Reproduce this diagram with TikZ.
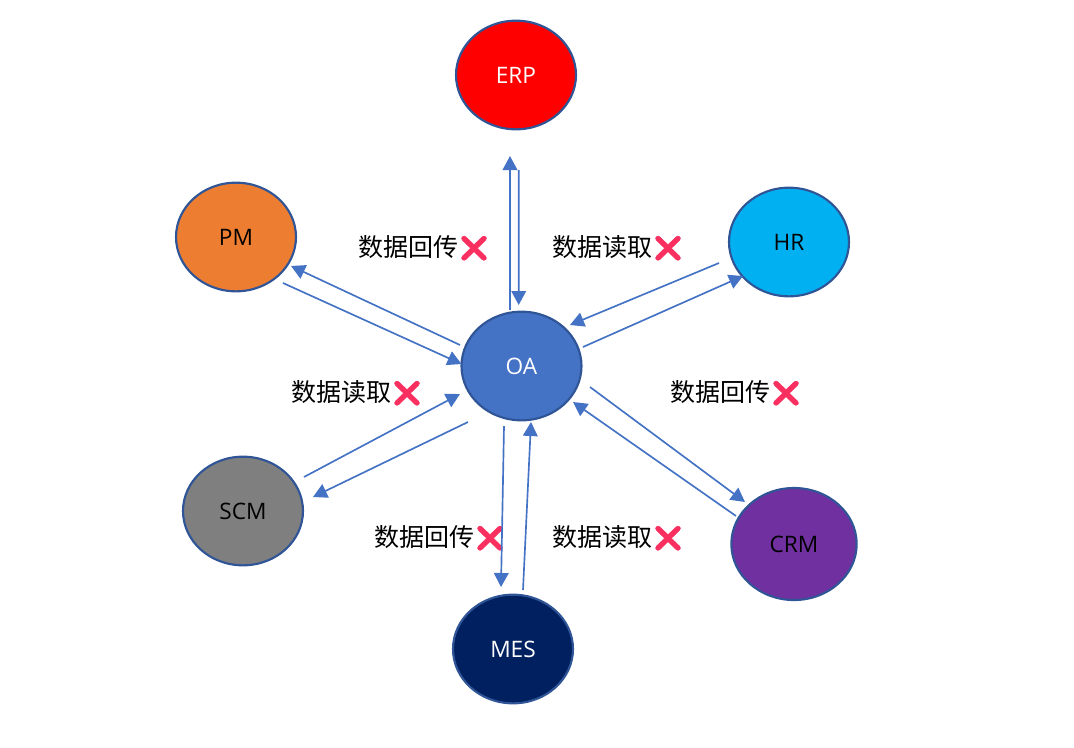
\documentclass[tikz,border=0pt]{standalone}
\usepackage{fontspec}
\usepackage{tikz}
\usetikzlibrary{arrows.meta, shapes.geometric}
\setmainfont{Noto Sans CJK SC}
\newfontfamily\namefont{Open Sans}
\newfontfamily\emojifont[FakeBold=2.2]{Noto Emoji}
\definecolor{sysline}{HTML}{2F5597}
\definecolor{flowblue}{HTML}{4472C4}
\definecolor{crosspink}{HTML}{F92F60}
\definecolor{pmfill}{HTML}{ED7D31}
\definecolor{hrfill}{HTML}{00B0F0}
\definecolor{scmfill}{HTML}{7F7F7F}
\definecolor{crmfill}{HTML}{7030A0}
\definecolor{mesfill}{HTML}{002060}
\newcommand{\nogo}{{\emojifont\textcolor{crosspink}{❌}}}

\begin{document}
\begin{tikzpicture}[x=0.75pt, y=-0.75pt,
			sys/.style={draw=sysline, line width=1.6pt, ellipse, inner sep=0pt,
				minimum width=90pt, minimum height=81.5pt, font=\namefont\fontsize{17}{20}\selectfont},
			flow/.style={-{Triangle[length=10.5pt, width=11pt]}, draw=flowblue, line width=1.25pt},
			lbl/.style={inner sep=0pt, font=\fontsize{18.75}{22}\selectfont}
			]
			\useasboundingbox (0,0) rectangle (1074,747);
			
			\node[sys, fill=flowblue, text=white] (oa) at (521.5,366) {OA};
			\node[sys, fill=red, text=white] (erp) at (516,75) {ERP};
			\node[sys, fill=pmfill] (pm) at (236,237) {PM};
			\node[sys, fill=hrfill] (hr) at (789,242) {HR};
			\node[sys, fill=scmfill] (scm) at (243,511) {SCM};
			\node[sys, fill=crmfill, minimum width=94pt, minimum height=84pt] (crm) at (794,544) {CRM};
			\node[sys, fill=mesfill, text=white] (mes) at (513,649) {MES};
			
			\node[lbl] (pmback) at (424,248) {数据回传\nogo};
			\node[lbl] (hrread) at (618,248) {数据读取\nogo};
			\node[lbl] (crmback) at (736,393) {数据回传\nogo};
			\node[lbl] (scmread) at (357,393) {数据读取\nogo};
			\node[lbl] (mesback) at (440,538) {数据回传\nogo};
			\node[lbl] (mesread) at (618,538) {数据读取\nogo};
			
			\draw[flow] ([shift={(-11.5,-56)}]oa.center) -- ([shift={(-6,81)}]erp.center);
			\draw[flow] ([shift={(2.7,95)}]erp.center) -- ([shift={(-2.8,-61)}]oa.center);
			\draw[flow] ([shift={(47,46)}]pm.center) -- ([shift={(-60,-2)}]oa.center);
			\draw[flow] ([shift={(-61.5,-21)}]oa.center) -- ([shift={(55,29)}]pm.center);
			\draw[flow] ([shift={(-70,21)}]hr.center) -- ([shift={(48.5,-41)}]oa.center);
			\draw[flow] ([shift={(61.5,-19)}]oa.center) -- ([shift={(-46,34)}]hr.center);
			\draw[flow] ([shift={(61,-34)}]scm.center) -- ([shift={(-61.5,28)}]oa.center);
			\draw[flow] ([shift={(-53.5,56)}]oa.center) -- ([shift={(70,-14)}]scm.center);
			\draw[flow] ([shift={(-17.5,60)}]oa.center) -- ([shift={(-12,-62)}]mes.center);
			\draw[flow] ([shift={(10,-59)}]mes.center) -- ([shift={(9.5,56)}]oa.center);
			\draw[flow] ([shift={(68.5,21)}]oa.center) -- ([shift={(-49,-42)}]crm.center);
			\draw[flow] ([shift={(-58,-28)}]crm.center) -- ([shift={(51.5,36)}]oa.center);
	\end{tikzpicture}
\end{document}
